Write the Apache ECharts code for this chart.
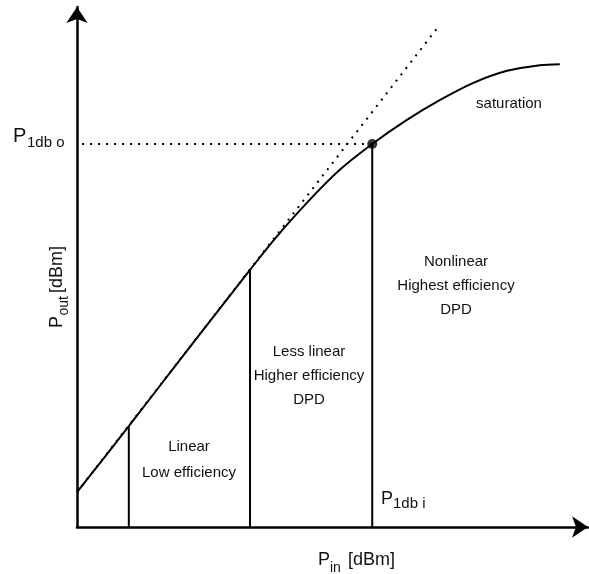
<!DOCTYPE html>
<html>
<head>
<meta charset="utf-8">
<script src="https://cdn.jsdelivr.net/npm/echarts@6/dist/echarts.min.js"></script>
<style>html,body{margin:0;padding:0;background:#fff}#c{width:589px;height:574px}</style>
</head>
<body>
<div id="c"></div>
<script>
// Transfer characteristic (arbitrary units on both axes)
const pinValues  = [0, 10.3, 22.0, 34.4, 39.0, 45.7, 52.3, 58.7, 65.6, 72.2, 78.7, 85.5, 92.0, 96.0];
const poutValues = [6.8, 19.7, 34.6, 50.2, 55.9, 63.3, 69.8, 74.8, 79.5, 83.4, 86.7, 89.1, 90.2, 90.4];
// Ideal linear extrapolation (start, end)
const tangentPin  = [0, 72.0];
const tangentPout = [6.8, 97.9];
// 1 dB compression point
const p1dbPin = 58.7;
const p1dbPout = 74.8;
// Region boundaries (input power) and the output they reach on the curve
const boundaryPin  = [10.3, 34.4, 58.7];
const boundaryPout = [19.7, 50.2, 74.8];
const dottedStartPin = 1.0;
const axisMaxX = 101.6;
const axisMaxY = 101.56;

const FONT = '"Liberation Sans", Arial, sans-serif';
const TXT = '#111';

const chart = echarts.init(document.getElementById('c'), null, {renderer: 'canvas'});

function axis(max) {
  return {
    type: 'value', min: 0, max: max,
    splitLine: {show: false}, axisTick: {show: false}, axisLabel: {show: false},
    axisLine: {show: true, onZero: false, symbol: ['none', 'arrow'], symbolSize: [16, 16],
               lineStyle: {color: '#000', width: 2.5}}
  };
}

const series = [];
series.push({
  type: 'line', data: pinValues.map((x, i) => [x, poutValues[i]]),
  smooth: 0.3, symbol: 'none', silent: true, z: 5,
  lineStyle: {color: '#000', width: 2}
});
series.push({
  type: 'line', data: tangentPin.map((x, i) => [x, tangentPout[i]]),
  symbol: 'none', silent: true, z: 4,
  lineStyle: {color: '#000', width: 2, type: [2, 6]}
});
series.push({
  type: 'line', data: [[dottedStartPin, p1dbPout], [p1dbPin, p1dbPout]],
  symbol: 'none', silent: true, z: 4,
  lineStyle: {color: '#000', width: 2, type: [2, 6]}
});
boundaryPin.forEach((x, i) => {
  series.push({
    type: 'line', data: [[x, 0], [x, boundaryPout[i]]],
    symbol: 'none', silent: true, z: 4,
    lineStyle: {color: '#000', width: 2}
  });
});
series.push({
  type: 'scatter', data: [[p1dbPin, p1dbPout]], symbolSize: 10, z: 6,
  itemStyle: {color: '#000'}, silent: true
});

function t(text, x, y, size, align) {
  return {type: 'text', x: x, y: y, silent: true,
    style: {text: text, fontSize: size, fontFamily: FONT, fill: TXT,
            align: align || 'left', verticalAlign: 'middle'}};
}

const graphic = [
  // P1db o
  t('P', 13, 136, 20), t('1db o', 27, 142.5, 15),
  // P1db i
  t('P', 381, 498.6, 18), t('1db i', 393, 503.5, 15),
  // Pin [dBm]
  t('P', 318, 559.6, 18), t('in', 330, 567.8, 14), t('[dBm]', 348, 559.6, 18),
  // Pout [dBm] rotated
  {type: 'group', x: 0, y: 328, rotation: Math.PI / 2, silent: true, children: [
    t('P', 0, 56.6, 18), t('out', 12.5, 64.3, 14), t('[dBm]', 35, 56.6, 18)
  ]},
  // region texts
  t('saturation', 509, 103.5, 15, 'center'),
  t('Nonlinear', 456, 262, 15, 'center'),
  t('Highest efficiency', 456, 286, 15, 'center'),
  t('DPD', 456, 310, 15, 'center'),
  t('Less linear', 309, 352, 15, 'center'),
  t('Higher efficiency', 309, 376, 15, 'center'),
  t('DPD', 309, 400, 15, 'center'),
  t('Linear', 189, 447, 15, 'center'),
  t('Low efficiency', 189, 473, 15, 'center')
];

chart.setOption({
  animation: false,
  backgroundColor: '#fff',
  grid: {left: 77, top: 7, width: 511, height: 520, containLabel: false},
  xAxis: axis(axisMaxX),
  yAxis: axis(axisMaxY),
  series: series,
  graphic: graphic
});
</script>
</body>
</html>
